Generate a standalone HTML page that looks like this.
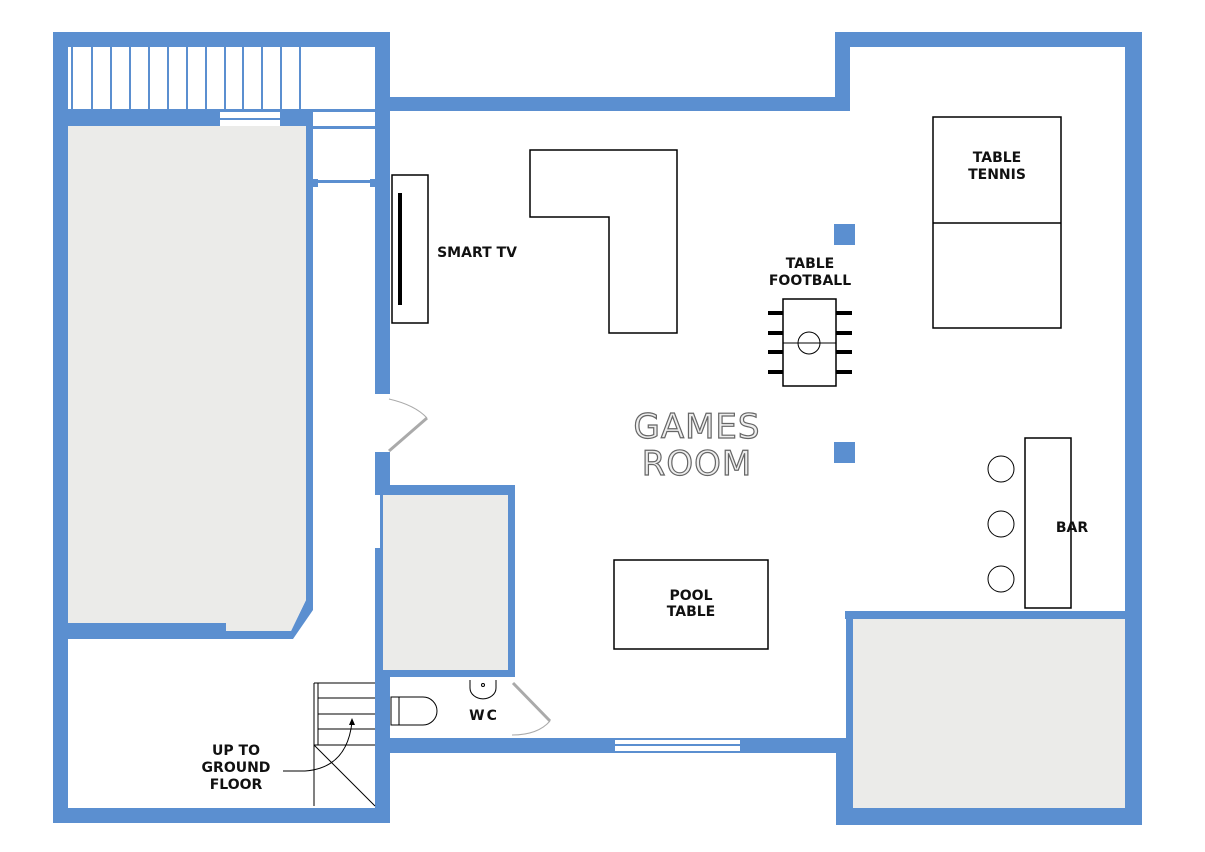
<!DOCTYPE html>
<html><head><meta charset="utf-8"><style>
html,body{margin:0;padding:0;background:#fff;}
svg{display:block;}
text{font-family:"DejaVu Sans","Liberation Sans",sans-serif;font-weight:bold;}
</style></head><body>
<svg width="1205" height="852" viewBox="0 0 1205 852" xmlns="http://www.w3.org/2000/svg">
<g fill="#5b8fd0">
<rect x="53" y="32" width="337" height="15"/>
<rect x="53" y="32" width="15" height="791"/>
<rect x="53" y="808" width="337" height="15"/>
<rect x="375" y="32" width="15" height="362"/>
<rect x="375" y="452" width="15" height="43"/>
<rect x="375" y="548" width="15" height="275"/>
<rect x="53" y="109" width="322" height="3"/>
<rect x="53" y="112" width="167" height="14"/>
<rect x="280" y="112" width="33" height="14"/>
<rect x="220" y="118" width="60" height="2"/>
<rect x="313" y="126" width="62" height="3"/>
<rect x="313" y="180" width="62" height="3"/>
<rect x="310" y="179" width="8" height="8"/>
<rect x="370" y="179" width="6" height="8"/>
<rect x="71" y="47" width="2" height="62"/><rect x="91" y="47" width="2" height="62"/>
<rect x="110" y="47" width="2" height="62"/><rect x="129" y="47" width="2" height="62"/>
<rect x="148" y="47" width="2" height="62"/><rect x="167" y="47" width="2" height="62"/>
<rect x="186" y="47" width="2" height="62"/><rect x="205" y="47" width="2" height="62"/>
<rect x="224" y="47" width="2" height="62"/><rect x="242" y="47" width="2" height="62"/>
<rect x="261" y="47" width="2" height="62"/><rect x="280" y="47" width="2" height="62"/>
<rect x="299" y="47" width="2" height="62"/>
<rect x="306" y="126" width="7" height="475"/>
<polygon points="306,600 313,600 313,610 293,639 68,639 68,623 226,623 226,631 291,631"/>
<rect x="390" y="97" width="458" height="14"/>
<rect x="835" y="32" width="15" height="79"/>
<rect x="835" y="32" width="307" height="15"/>
<rect x="1125" y="32" width="17" height="793"/>
<rect x="836" y="808" width="306" height="17"/>
<rect x="845" y="611" width="280" height="8"/>
<rect x="846" y="619" width="7" height="119"/>
<rect x="836" y="738" width="17" height="87"/>
<rect x="390" y="738" width="225" height="15"/>
<rect x="740" y="738" width="108" height="15"/>
<rect x="615" y="738" width="125" height="2"/><rect x="615" y="744" width="125" height="2"/><rect x="615" y="751" width="125" height="2"/>
<rect x="375" y="485" width="140" height="10"/>
<rect x="508" y="485" width="7" height="192"/>
<rect x="375" y="670" width="140" height="7"/>
<rect x="380" y="495" width="3" height="55"/>
<rect x="834" y="224" width="21" height="21"/>
<rect x="834" y="442" width="21" height="21"/>
</g>
<g fill="#ebebe9">
<polygon points="68,126 306,126 306,600 291,631 226,631 226,623 68,623"/>
<rect x="383" y="495" width="125" height="175"/>
<rect x="853" y="619" width="272" height="189"/>
</g>
<g stroke="#aaa" fill="none">
<path d="M389,399 Q415,405 427,418" stroke-width="1"/>
<line x1="389" y1="451" x2="427" y2="418" stroke-width="3"/>
<path d="M512,735 Q538,735 550,721" stroke-width="1"/>
<line x1="513" y1="683" x2="550" y2="721" stroke-width="3"/>
</g>
<g stroke="#000" fill="none" stroke-width="1.5">
<rect x="392" y="175" width="36" height="148"/>
<polygon points="530,150 677,150 677,333 609,333 609,217 530,217"/>
<rect x="933" y="117" width="128" height="211"/>
<line x1="933" y1="223" x2="1061" y2="223"/>
<rect x="783" y="299" width="53" height="87"/>
<line x1="783" y1="343" x2="836" y2="343" stroke-width="1"/>
<circle cx="809" cy="343" r="11" stroke-width="1"/>
<rect x="1025" y="438" width="46" height="170"/>
<circle cx="1001" cy="469" r="13" stroke-width="1"/>
<circle cx="1001" cy="524" r="13" stroke-width="1"/>
<circle cx="1001" cy="579" r="13" stroke-width="1"/>
<rect x="614" y="560" width="154" height="89"/>
<path d="M391,697 H423 A14,14 0 0 1 423,725 H391 Z" stroke-width="1"/>
<line x1="399" y1="697" x2="399" y2="725" stroke-width="1"/>
<path d="M470,680 V688 A12,10 0 0 0 496,688 V680" stroke-width="1"/>
<circle cx="483" cy="685" r="1.5" stroke-width="1"/>
<g stroke-width="1">
<line x1="314" y1="683" x2="314" y2="806"/>
<line x1="318" y1="683" x2="318" y2="745"/>
<line x1="314" y1="683" x2="375" y2="683"/>
<line x1="318" y1="698" x2="375" y2="698"/>
<line x1="318" y1="714" x2="375" y2="714"/>
<line x1="318" y1="729" x2="375" y2="729"/>
<line x1="314" y1="745" x2="375" y2="745"/>
<line x1="314" y1="745" x2="375" y2="806"/>
<path d="M283,771 H305 Q347,768 352,722"/>
</g>
</g>
<polygon points="352,718 349,725 355,725" fill="#000"/>
<g stroke="#000" stroke-width="4">
<line x1="400" y1="193" x2="400" y2="305"/>
<line x1="768" y1="313" x2="783" y2="313"/><line x1="768" y1="333" x2="783" y2="333"/>
<line x1="768" y1="352" x2="783" y2="352"/><line x1="768" y1="372" x2="783" y2="372"/>
<line x1="836" y1="313" x2="852" y2="313"/><line x1="836" y1="333" x2="852" y2="333"/>
<line x1="836" y1="352" x2="852" y2="352"/><line x1="836" y1="372" x2="852" y2="372"/>
</g>
<g font-size="14" fill="#111" text-anchor="middle">
<text x="477" y="257">SMART TV</text>
<text x="810" y="268">TABLE</text>
<text x="810" y="285">FOOTBALL</text>
<text x="997" y="162">TABLE</text>
<text x="997" y="179">TENNIS</text>
<text x="1072" y="532">BAR</text>
<text x="691" y="600">POOL</text>
<text x="691" y="616">TABLE</text>
<text x="484" y="720" letter-spacing="2">WC</text>
<text x="236" y="755">UP TO</text>
<text x="236" y="772">GROUND</text>
<text x="236" y="789">FLOOR</text>
</g>
<g font-size="34" fill="#eee" stroke="#666" stroke-width="1.2" text-anchor="middle">
<text x="697" y="438" style="font-weight:normal" letter-spacing="1">GAMES</text>
<text x="697" y="475" style="font-weight:normal" letter-spacing="1">ROOM</text>
</g>
</svg>
</body></html>
